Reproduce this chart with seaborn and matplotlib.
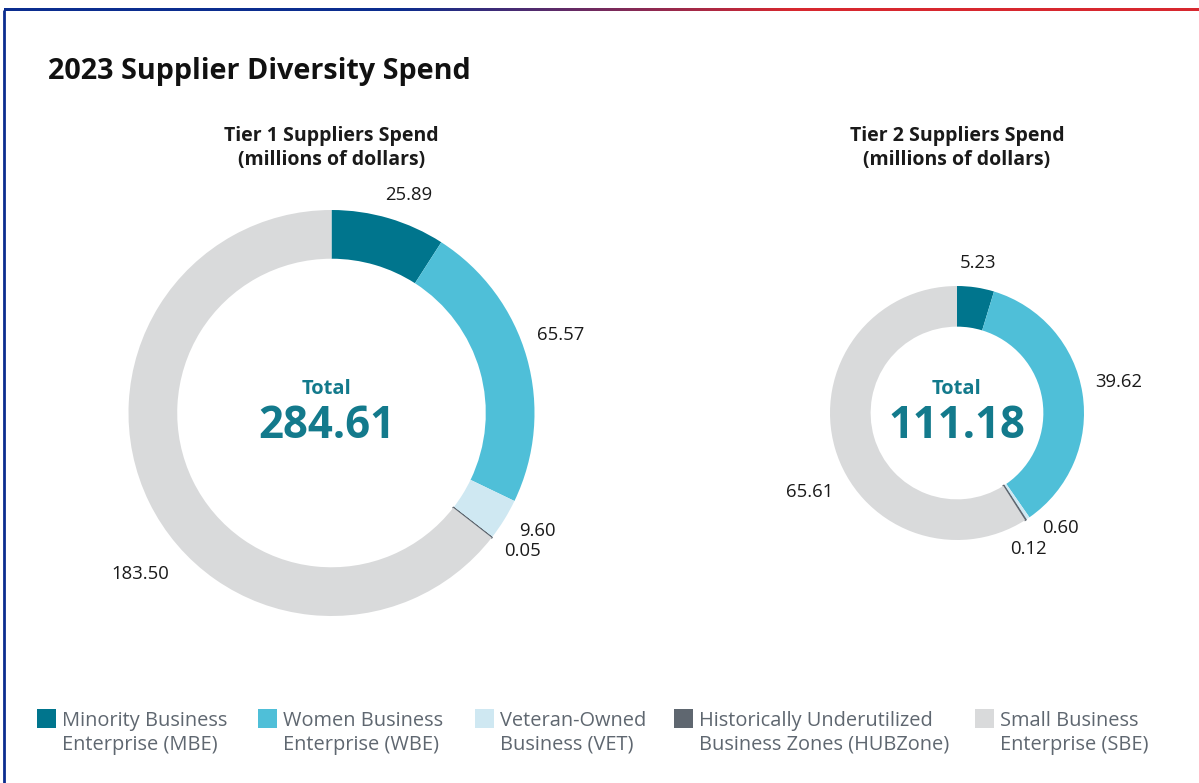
import numpy as np
import matplotlib.pyplot as plt
import seaborn as sns

# Data (millions of dollars)
categories = ['Minority Business\nEnterprise (MBE)', 'Women Business\nEnterprise (WBE)',
              'Veteran-Owned\nBusiness (VET)', 'Historically Underutilized\nBusiness Zones (HUBZone)',
              'Small Business\nEnterprise (SBE)']
tier1_values = [25.89, 65.57, 9.60, 0.05, 183.50]
tier2_values = [5.23, 39.62, 0.60, 0.12, 65.61]
tier1_total = '284.61'
tier2_total = '111.18'

colors = ['#00758d', '#4fbfd8', '#cfe8f2', '#5f6770', '#d9dadb']
teal = '#137a8c'

sns.set_theme(style='white')
plt.rcParams['font.family'] = ['Open Sans', 'DejaVu Sans']

W, H = 1199, 783
fig = plt.figure(figsize=(W / 100, H / 100), dpi=100)

# full-figure axes in pixel coordinates for frame, titles and legend
bg = fig.add_axes([0, 0, 1, 1])
bg.set_xlim(0, W)
bg.set_ylim(H, 0)
bg.axis('off')

# frame: blue left rule, blue->red gradient top rule
bg.plot([4, 4], [10, H], color='#0b2d8f', lw=2, solid_capstyle='butt')
grad = np.linspace(0, 1, 600)
t = np.clip((grad - 0.33) / 0.33, 0, 1)
blue = np.array([11, 45, 143]) / 255
red = np.array([215, 40, 47]) / 255
strip = (blue[None, :] * (1 - t[:, None]) + red[None, :] * t[:, None])[None, :, :]
bg.imshow(strip, extent=[4, W, 11.5, 8.5], aspect='auto', zorder=3)
bg.set_xlim(0, W)
bg.set_ylim(H, 0)

bg.text(48, 71, '2023 Supplier Diversity Spend', fontsize=20.7, fontweight='bold',
        color='#111111', va='center', ha='left')


def donut(values, total, cx, cy, r, width, title, label_adj, text_dx=0):
    ax = fig.add_axes([(cx - r) / W, (H - cy - r) / H, 2 * r / W, 2 * r / H])
    wedges, _ = ax.pie(values, colors=colors, startangle=90, counterclock=False,
                       radius=1, wedgeprops=dict(width=width, linewidth=0))
    # tiny HUBZone slice drawn as a hairline
    wedges[3].set_edgecolor(colors[3])
    wedges[3].set_linewidth(1.2)
    ax.set_xlim(-1, 1)
    ax.set_ylim(-1, 1)
    ax.axis('off')

    cum = np.cumsum([0] + list(values)) / sum(values)
    for i, v in enumerate(values):
        mid = 90 - 360 * (cum[i] + cum[i + 1]) / 2
        da, rr = label_adj[i]
        ang = np.deg2rad(mid + da)
        ax.text(rr * np.cos(ang), rr * np.sin(ang), f'{v:.2f}', fontsize=13.3,
                ha='center', va='center', color='#1a1a1a', clip_on=False)

    bg.text(cx + text_dx, cy - 24, 'Total', fontsize=14.5, fontweight='bold', color=teal,
            ha='center', va='center')
    bg.text(cx + text_dx, cy + 14, total, fontsize=31.5, fontweight='bold', color=teal,
            ha='center', va='center')
    bg.text(cx, 148, title, fontsize=14, fontweight='bold', color='#1a1a1a',
            ha='center', va='center', linespacing=1.2)


donut(tier1_values, tier1_total, 331.5, 413, 203, 0.24,
      'Tier 1 Suppliers Spend\n(millions of dollars)',
      [(-3, 1.14), (3, 1.19), (2, 1.17), (2, 1.16), (14, 1.23)], text_dx=-5)
donut(tier2_values, tier2_total, 957, 413, 127, 0.32,
      'Tier 2 Suppliers Spend\n(millions of dollars)',
      [(0.5, 1.19), (2, 1.30), (8, 1.22), (-5, 1.21), (12, 1.32)])

# legend
leg_x = [37, 258, 475, 674, 975]
for x, c, lab in zip(leg_x, colors, categories):
    bg.add_patch(plt.Rectangle((x, 709), 19, 19, color=c, lw=0))
    bg.text(x + 25, 733, lab, fontsize=14.4, color='#5f6770', ha='left', va='center',
            linespacing=1.25)

fig.savefig('out.png', dpi=100)
